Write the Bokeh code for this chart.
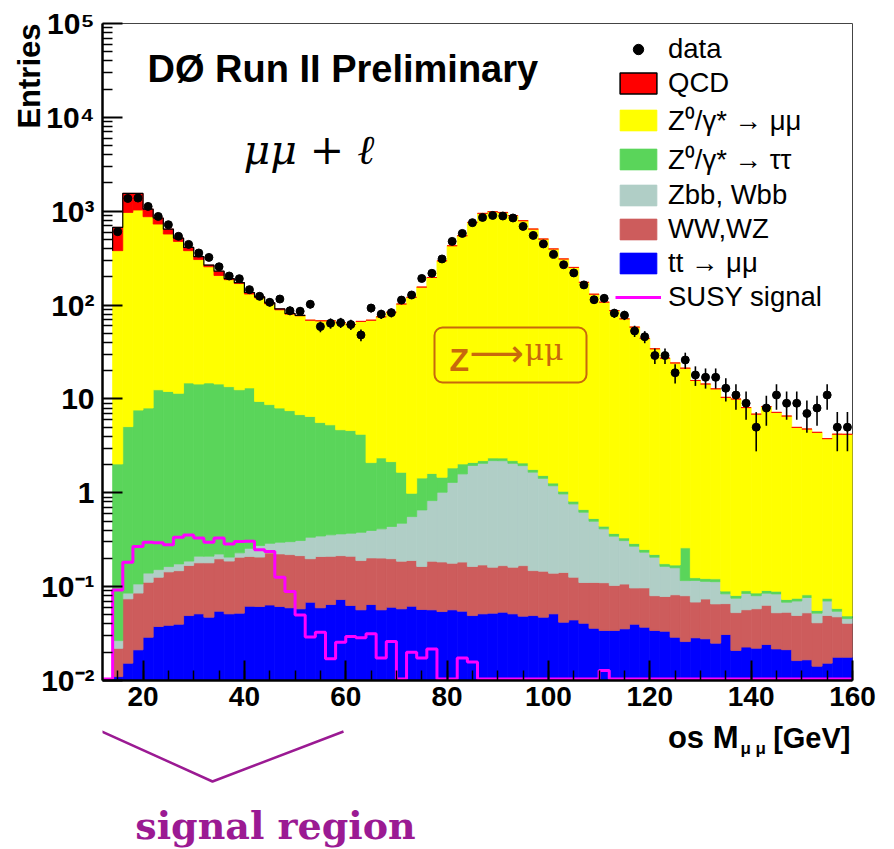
import numpy as np
from bokeh.plotting import figure
from bokeh.layouts import column
from bokeh.models import (Range1d, FixedTicker, CustomJSTickFormatter, Label, Legend,
                          LegendItem, BoxAnnotation)
from bokeh.embed import file_html
from bokeh.resources import INLINE

# ---------------------------------------------------------------- data
# 2 GeV bins of the opposite-sign dimuon mass, 12-160 GeV
bin_edges = list(range(12, 162, 2))

data_counts = [0, 605, 1368, 1380, 1125, 880, 718, 540, 443, 359, 322, 256, 204, 191, 146, 124,
               107, 116, 87, 86, 102, 59, 64, 65, 62, 48, 93, 80, 83, 113, 128, 192, 218, 310,
               477, 580, 755, 859, 902, 889, 847, 689, 552, 448, 347, 269, 220, 164, 114, 118,
               82, 78, 53, 46, 29, 29, 19, 26, 18, 17, 17, 13, 11, 9, 5, 8, 11, 9, 9, 7, 8, 11,
               5, 5]

bkg_qcd = [0, 293, 579, 519, 180, 117, 75, 41, 32, 23, 11, 23, 5, 4, 5, 3, 3, 2, 1.5, 1,
           0, 0, 0, 0, 0, 0, 0, 0, 0, 0, 0, 0, 0, 0, 0, 0, 0, 0, 0, 0, 0, 0, 0, 0, 0, 0, 0,
           0, 0, 0, 0, 0, 0, 0, 0, 0, 0, 0, 0, 0, 0, 0, 0, 0, 0, 0, 0, 0, 0, 0, 0, 0, 0, 0]

bkg_zmumu = [0, 378, 965, 1022, 866, 717, 559, 465, 365, 291, 241, 192, 173, 157, 118, 110,
             94, 81, 72.5, 70, 62.5, 62.4, 62.7, 60.3, 57.4, 62.8, 66.9, 72.6, 81.8, 101, 120,
             154, 195, 295, 427, 546, 758, 946, 986, 968, 894, 790, 644, 504, 395, 309, 251,
             174, 130, 107, 87, 71, 58, 44, 34, 27, 24, 21, 15.6, 14.3, 12.7, 10.3, 9.9, 8.0,
             6.8, 8.2, 7.1, 6.5, 4.9, 4.7, 4.35, 3.7, 4.15, 4.15]

bkg_ztautau = [0, 2.0, 4.98, 7.5, 7.86, 12.35, 11.84, 11.3, 14.6, 14.2, 14.6, 14.2, 13.3, 12.3,
               12.85, 9.13, 8.41, 7.70, 7.20, 6.49, 6.16, 5.25, 4.94, 4.33, 4.23, 3.82, 1.70,
               1.94, 1.71, 1.18, 0.43, 0.78, 0.78, 0.45, 0.55, 0.44, 0.15, 0.14, 0.15, 0.15,
               0.14, 0.13, 0.11, 0.10, 0.08, 0.066, 0.052, 0.042, 0.034, 0.028, 0.023, 0.021,
               0.018, 0.016, 0.014, 0.011, 0.011, 0.143, 0.008, 0.008, 0.008, 0.0057, 0.005,
               0.0058, 0.0054, 0.0058, 0.0057, 0.0046, 0.0048, 0.0052, 0.0035, 0.0048, 0.0037,
               0.0031]

bkg_zbb = [0, 0.0046, 0.0112, 0.0216, 0.028, 0.026, 0.020, 0.027, 0.019, 0.032, 0.032, 0.025,
           0.019, 0.023, 0.046, 0.068, 0.061, 0.074, 0.082, 0.096, 0.138, 0.137, 0.146, 0.151,
           0.160, 0.190, 0.194, 0.211, 0.239, 0.287, 0.368, 0.492, 0.639, 0.830, 1.112, 1.406,
           1.79, 1.89, 2.04, 2.03, 1.90, 1.78, 1.51, 1.28, 1.05, 0.83, 0.635, 0.51, 0.387,
           0.303, 0.242, 0.203, 0.173, 0.136, 0.126, 0.086, 0.077, 0.036, 0.048, 0.040, 0.0475,
           0.018, 0.0225, 0.028, 0.022, 0.022, 0.031, 0.015, 0.021, 0.024, 0.011, 0.021, 0.007,
           0.005]

bkg_diboson = [0, 0.011, 0.0588, 0.0641, 0.0825, 0.0884, 0.105, 0.108, 0.119, 0.128, 0.132,
               0.143, 0.136, 0.154, 0.148, 0.145, 0.165, 0.162, 0.160, 0.156, 0.130, 0.150,
               0.146, 0.141, 0.148, 0.133, 0.138, 0.145, 0.138, 0.129, 0.128, 0.107, 0.130,
               0.129, 0.121, 0.128, 0.115, 0.119, 0.109, 0.114, 0.110, 0.119, 0.099, 0.099,
               0.088, 0.100, 0.082, 0.070, 0.075, 0.076, 0.069, 0.071, 0.057, 0.060, 0.046,
               0.045, 0.053, 0.054, 0.040, 0.046, 0.0405, 0.035, 0.032, 0.034, 0.036, 0.039,
               0.031, 0.032, 0.033, 0.036, 0.027, 0.034, 0.030, 0.023]

bkg_ttbar = [0, 0.011, 0.0153, 0.0212, 0.0289, 0.0376, 0.0387, 0.0398, 0.0492, 0.0513, 0.0473,
             0.0548, 0.0513, 0.0522, 0.0619, 0.0614, 0.0637, 0.0614, 0.0595, 0.0580, 0.0683,
             0.0595, 0.0645, 0.0729, 0.0630, 0.0566, 0.0645, 0.0566, 0.0604, 0.0580, 0.0619,
             0.0571, 0.0566, 0.0543, 0.0566, 0.0548, 0.0492, 0.0513, 0.0522, 0.0535, 0.0513,
             0.0485, 0.0492, 0.0473, 0.0513, 0.0418, 0.0442, 0.0407, 0.0360, 0.0341, 0.0341,
             0.0355, 0.0398, 0.0370, 0.0341, 0.0335, 0.0289, 0.0260, 0.0285, 0.0278, 0.0250,
             0.0309, 0.0209, 0.0227, 0.0221, 0.0242, 0.0217, 0.0213, 0.0163, 0.0166, 0.0142,
             0.0153, 0.0177, 0.0177]

susy_signal = [0, 0.092, 0.182, 0.267, 0.297, 0.293, 0.28, 0.336, 0.355, 0.33, 0.297, 0.33,
               0.285, 0.302, 0.305, 0.247, 0.237, 0.126, 0.089, 0.05, 0.029, 0.0327, 0.017,
               0.0256, 0.0294, 0.0285, 0.0314, 0.0174, 0.026, 0, 0.020, 0.0174, 0.0216, 0, 0,
               0.0174, 0.0157, 0, 0, 0, 0, 0, 0, 0, 0, 0, 0, 0, 0, 0.0128, 0, 0, 0, 0, 0, 0, 0,
               0, 0, 0, 0, 0, 0, 0, 0, 0, 0, 0, 0, 0, 0, 0, 0, 0]

x_ticks = [20, 40, 60, 80, 100, 120, 140, 160]
x_minor_ticks = list(range(15, 161, 5))
y_ticks = [1e-2, 1e-1, 1, 10, 1e2, 1e3, 1e4, 1e5]
y_tick_labels = ["10⁻²", "10⁻¹", "1", "10", "10²", "10³", "10⁴", "10⁵"]

# ---------------------------------------------------------------- page geometry
PAGE_W, PAGE_H = 894, 849
FRAME_L, FRAME_R, FRAME_T, FRAME_B = 102, 852, 23, 680
MAIN_H = 718                       # main figure; the strip below holds the x title
X_MIN, X_MAX = 12, 160
Y_MIN, Y_MAX = 1e-2, 1e5
PX_PER_GEV = (FRAME_R - FRAME_L) / (X_MAX - X_MIN)


def px_to_x(px):
    return X_MIN + (px - FRAME_L) / PX_PER_GEV


def py_to_y(py):
    decades = np.log10(Y_MAX / Y_MIN)
    return Y_MIN * 10 ** ((FRAME_B - py) * decades / (FRAME_B - FRAME_T))


FONT = "Liberation Sans"

# ---------------------------------------------------------------- main figure
p = figure(width=PAGE_W, height=MAIN_H, x_range=Range1d(X_MIN, X_MAX),
           y_range=Range1d(Y_MIN, Y_MAX), y_axis_type="log", output_backend="svg",
           toolbar_location=None, min_border_left=FRAME_L, min_border_right=PAGE_W - FRAME_R,
           min_border_top=FRAME_T, min_border_bottom=MAIN_H - FRAME_B)
p.xgrid.visible = False
p.ygrid.visible = False
p.outline_line_color = "#444444"
p.outline_line_width = 1
p.background_fill_color = "white"
p.border_fill_color = "white"

# vertical axis title, top-aligned on the left
p.title.text = "Entries"
p.title_location = "left"
p.title.align = "right"
p.title.text_font = FONT
p.title.text_font_style = "bold"
p.title.text_font_size = "31px"
p.title.text_color = "black"
p.title.standoff = -16

edges = np.array(bin_edges, dtype=float)
left, right = edges[:-1], edges[1:]
centers = 0.5 * (left + right)
FLOOR = 1e-4

# stacked backgrounds, bottom to top
stack = [
    ("tt → μμ", bkg_ttbar, "#0000ff"),
    ("WW,WZ", bkg_diboson, "#cd5c5c"),
    ("Zbb, Wbb", bkg_zbb, "#b0cec6"),
    ("Z⁰/γ* → ττ", bkg_ztautau, "#5ad55a"),
    ("Z⁰/γ* → μμ", bkg_zmumu, "#ffff00"),
    ("QCD", bkg_qcd, "#ff0000"),
]
base = np.zeros(len(left))
stack_renderers = {}
qcd_base = None
for name, vals, col in stack:
    top = base + np.array(vals, dtype=float)
    if name == "QCD":
        qcd_base = base.copy()
    r = p.quad(left=left, right=right, bottom=np.maximum(base, FLOOR), top=np.maximum(top, FLOOR),
               fill_color=col, line_color=col, line_width=0.8)
    stack_renderers[name] = r
    base = top
total = base

# black outline of the QCD histogram on top of the stack
qcd_arr = np.array(bkg_qcd, dtype=float)
idx = np.nonzero(qcd_arr > 0)[0]
i0, i1 = idx[0], idx[-1]
ox = np.concatenate([[left[i0]], left[i0:i1 + 1], [right[i1]]])
oy = np.concatenate([[qcd_base[i0]], total[i0:i1 + 1], [total[i1]]])
p.step(x=ox, y=oy, mode="after", line_color="black", line_width=1.2)

# legend swatch for QCD: red fill with a black frame
qcd_swatch = p.quad(left=[np.nan], right=[np.nan], top=[np.nan], bottom=[np.nan],
                    fill_color="#ff0000", line_color="black", line_width=1.5)

# SUSY signal histogram, empty bins drawn along the lower edge
sig = np.maximum(np.array(susy_signal, dtype=float), Y_MIN * 1.04)
r_sig = p.step(x=edges, y=np.append(sig, sig[-1]), mode="after",
               line_color="#ff00ff", line_width=3)

# data with Poisson errors
d = np.array(data_counts, dtype=float)
m = d > 0
err = np.sqrt(d[m])
p.segment(x0=centers[m], x1=centers[m], y0=np.maximum(d[m] - err, 1e-3), y1=d[m] + err,
          line_color="black", line_width=1.6)
r_data = p.scatter(x=centers[m], y=d[m], size=8, fill_color="black", line_color="black")

# ---------------------------------------------------------------- axes
for ax in (p.xaxis, p.yaxis):
    ax.axis_line_width = 2.5
    ax.axis_line_color = "black"
    ax.major_tick_in = 20
    ax.major_tick_out = 0
    ax.minor_tick_in = 10
    ax.minor_tick_out = 0
    ax.major_tick_line_width = 2
    ax.minor_tick_line_width = 1.5
    ax.major_tick_line_color = "black"
    ax.minor_tick_line_color = "black"
    ax.major_label_text_font = FONT
    ax.major_label_text_font_style = "bold"
    ax.major_label_text_color = "black"

p.xaxis.ticker = FixedTicker(ticks=x_ticks, minor_ticks=x_minor_ticks)
p.xaxis.major_label_text_font_size = "28px"
p.xaxis.major_label_standoff = 6

y_minor = [k * 10.0 ** e for e in range(-2, 5) for k in range(2, 10)]
p.yaxis.ticker = FixedTicker(ticks=y_ticks, minor_ticks=y_minor)
p.yaxis.major_label_text_font_size = "30px"
p.yaxis.major_label_standoff = 8
p.yaxis.formatter = CustomJSTickFormatter(args=dict(vals=y_ticks, labs=y_tick_labels), code="""
    let best = 0, dist = Infinity;
    for (let i = 0; i < vals.length; i++) {
        const e = Math.abs(Math.log10(vals[i]) - Math.log10(tick));
        if (e < dist) { dist = e; best = i; }
    }
    return labs[best];
""")

# ---------------------------------------------------------------- legend
legend = Legend(items=[
    LegendItem(label="data", renderers=[r_data]),
    LegendItem(label="QCD", renderers=[qcd_swatch]),
    LegendItem(label="Z⁰/γ* → μμ", renderers=[stack_renderers["Z⁰/γ* → μμ"]]),
    LegendItem(label="Z⁰/γ* → ττ", renderers=[stack_renderers["Z⁰/γ* → ττ"]]),
    LegendItem(label="Zbb, Wbb", renderers=[stack_renderers["Zbb, Wbb"]]),
    LegendItem(label="WW,WZ", renderers=[stack_renderers["WW,WZ"]]),
    LegendItem(label="tt → μμ", renderers=[stack_renderers["tt → μμ"]]),
    LegendItem(label="SUSY signal", renderers=[r_sig]),
], location="top_right", margin=0, padding=10, spacing=2,
   glyph_width=46, glyph_height=26, label_height=30, label_width=174, label_standoff=7,
   label_text_font=FONT, label_text_font_size="27.5px", label_text_color="black",
   background_fill_alpha=0, border_line_alpha=0)
p.add_layout(legend)

# ---------------------------------------------------------------- in-frame texts
p.add_layout(Label(x=px_to_x(147), y=py_to_y(68), text="DØ Run II Preliminary",
                   text_font=FONT, text_font_style="bold", text_font_size="38px",
                   text_baseline="middle", text_color="black"))
p.add_layout(Label(x=px_to_x(243), y=py_to_y(149), text="μμ + ℓ",
                   text_font="DejaVu Serif", text_font_style="italic", text_font_size="41px",
                   text_baseline="middle", text_color="black"))

# Z peak tag
ZCOL = "#c8690c"
p.add_layout(BoxAnnotation(left=px_to_x(434), right=px_to_x(586), top=py_to_y(327),
                           bottom=py_to_y(382), fill_color=None, fill_alpha=0,
                           line_color=ZCOL, line_alpha=1.0, line_width=2, border_radius=8))
p.add_layout(Label(x=px_to_x(449), y=py_to_y(359), text="Z", text_font=FONT,
                   text_font_style="bold", text_font_size="32px", text_baseline="middle",
                   text_color=ZCOL))
p.add_layout(Label(x=px_to_x(469), y=py_to_y(352), text="⟶", text_font="DejaVu Sans",
                   text_font_size="38px", text_baseline="middle", text_color=ZCOL))
p.add_layout(Label(x=px_to_x(524), y=py_to_y(349), text="μμ", text_font="DejaVu Serif",
                   text_font_size="30px", text_baseline="middle", text_color=ZCOL))

# ---------------------------------------------------------------- strip below the axis
# shares the main x scale (the column layout aligns both frames); y in page pixel rows
q = figure(width=PAGE_W, height=PAGE_H - MAIN_H,
           x_range=Range1d(X_MIN, X_MAX), y_range=Range1d(PAGE_H, MAIN_H),
           output_backend="svg", toolbar_location=None, x_axis_location=None,
           y_axis_location=None, min_border_left=FRAME_L, min_border_right=PAGE_W - FRAME_R,
           min_border_top=0, min_border_bottom=0, outline_line_color=None)
q.xgrid.visible = False
q.ygrid.visible = False
q.background_fill_color = "white"
q.border_fill_color = "white"

q.add_layout(Label(x=px_to_x(850), y=737, text="[GeV]", text_font=FONT,
                   text_font_style="bold", text_font_size="29px", text_align="right",
                   text_baseline="middle", text_color="black"))
q.add_layout(Label(x=px_to_x(738), y=737, text="os M", text_font=FONT,
                   text_font_style="bold", text_font_size="31px", text_align="right",
                   text_baseline="middle", text_color="black"))
q.add_layout(Label(x=px_to_x(740), y=748, text="μ μ", text_font=FONT,
                   text_font_style="bold", text_font_size="17px", text_baseline="middle",
                   text_color="black"))

# signal region bracket
PCOL = "#9b1a93"
q.line(x=[px_to_x(97), px_to_x(212), px_to_x(343)], y=[729, 781, 731],
       line_color=PCOL, line_width=2.5)
q.add_layout(Label(x=px_to_x(275), y=825, text="signal region", text_font="DejaVu Serif",
                   text_font_style="bold", text_font_size="38px", text_align="center",
                   text_baseline="middle", text_color=PCOL))

with open("out.html", "w") as f:
    f.write(file_html(column(p, q, spacing=0), INLINE))
